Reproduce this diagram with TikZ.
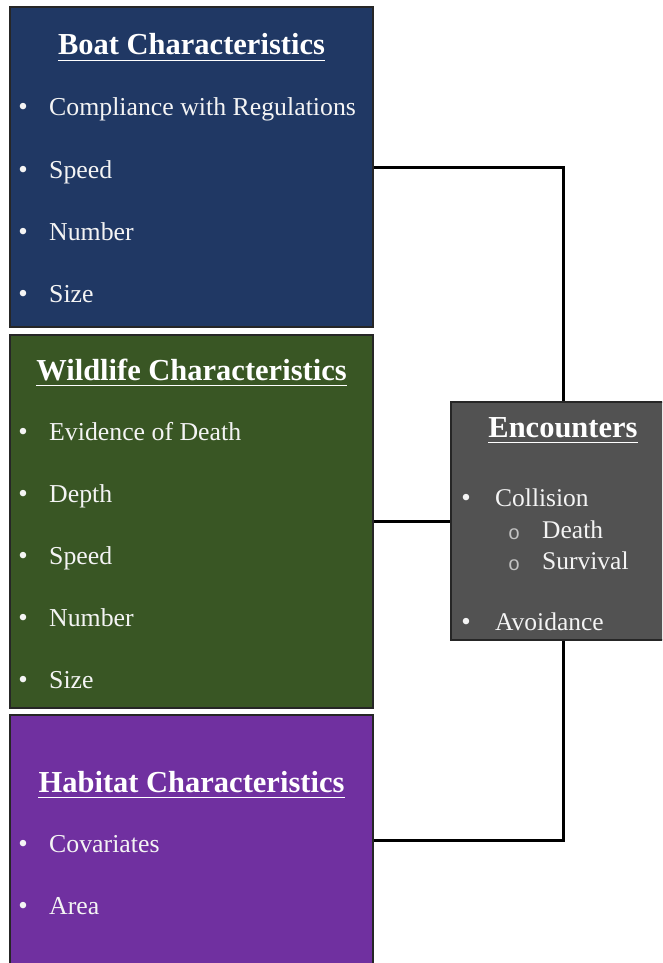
\documentclass[tikz,border=0pt]{standalone}
\usepackage{fontspec}
\setmainfont{Liberation Serif}
\newfontfamily\monofont{Liberation Mono}
\usetikzlibrary{calc}
\definecolor{boatblue}{HTML}{203864}
\definecolor{wildgreen}{HTML}{395624}
\definecolor{habpurple}{HTML}{7030A0}
\definecolor{encgray}{HTML}{525252}
\definecolor{itemwhite}{HTML}{F4F4F4}
\tikzset{
  panel/.style={draw=black!85, line width=1.2pt, inner sep=0pt, rectangle},
  heading/.style={anchor=base, text=white, inner sep=0pt,
    font=\fontsize{30.5}{34}\selectfont\bfseries},
  uline/.style={white, line width=1.8pt},
  item/.style={anchor=base west, text=itemwhite, inner sep=0pt,
    font=\fontsize{25.8}{30}\selectfont},
  encitem/.style={anchor=base west, text=itemwhite, inner sep=0pt,
    font=\fontsize{25.5}{30}\selectfont},
  dot/.style={anchor=base, text=itemwhite, inner sep=0pt,
    font=\fontsize{27}{30}\selectfont},
  ring/.style={anchor=base, text=itemwhite!80!black, inner sep=0pt,
    font=\fontsize{20}{22}\monofont},
  conn/.style={black, line width=3pt}
}
\begin{document}
\begin{tikzpicture}[x=1pt,y=-1pt]
\useasboundingbox (0,0) rectangle (662,963);
\clip (0,0) rectangle (662,963);
\fill[white] (0,0) rectangle (662,963);

% the four panels
\node[panel, fill=boatblue, minimum width=363pt, minimum height=320pt] (boat) at (191.5,167) {};
\node[panel, fill=wildgreen, minimum width=363pt, minimum height=373pt] (wild) at (191.5,521.5) {};
\node[panel, fill=habpurple, minimum width=363pt, minimum height=250pt] (hab) at (191.5,840) {};
\node[panel, fill=encgray, minimum width=224pt, minimum height=238pt] (enc) at (563,521) {};

% connectors
\draw[conn] (boat.east) -| (enc.north);
\draw[conn] (wild.east) -- (wild.east -| enc.west);
\draw[conn] (enc.south) |- (hab.east);

% boat panel text
\node[heading] (boatT) at (191.5,55) {Boat Characteristics};
\draw[uline] ($(boatT.base west)+(0,5.5)$) -- ($(boatT.base east)+(0,5.5)$);
\foreach \t [count=\i] in {Compliance with Regulations, Speed, Number, Size}{
  \node[dot] (boatB\i) at (23,116+62*\i-62) {•};
  \node[item] (boatI\i) at (49,116+62*\i-62) {\t};
}

% wildlife panel text
\node[heading] (wildT) at (191.5,380) {Wildlife Characteristics};
\draw[uline] ($(wildT.base west)+(0,5.5)$) -- ($(wildT.base east)+(0,5.5)$);
\foreach \t [count=\i] in {Evidence of Death, Depth, Speed, Number, Size}{
  \node[dot] (wildB\i) at (23,440+62*\i-62) {•};
  \node[item] (wildI\i) at (49,440+62*\i-62) {\t};
}

% habitat panel text
\node[heading] (habT) at (191.5,792) {Habitat Characteristics};
\draw[uline] ($(habT.base west)+(0,5.5)$) -- ($(habT.base east)+(0,5.5)$);
\foreach \t [count=\i] in {Covariates, Area}{
  \node[dot] (habB\i) at (23,852+62*\i-62) {•};
  \node[item] (habI\i) at (49,852+62*\i-62) {\t};
}

% encounters panel text
\node[heading] (encT) at (563,437) {Encounters};
\draw[uline] ($(encT.base west)+(0,5.5)$) -- ($(encT.base east)+(0,5.5)$);
\node[dot] (encB1) at (466,506) {•};
\node[encitem] (encI1) at (495,506) {Collision};
\node[ring] (encR1) at (514,539) {o};
\node[encitem] (encS1) at (542,538) {Death};
\node[ring] (encR2) at (514,570) {o};
\node[encitem] (encS2) at (542,569) {Survival};
\node[dot] (encB2) at (466,630) {•};
\node[encitem] (encI2) at (495,630) {Avoidance};
\end{tikzpicture}
\end{document}
